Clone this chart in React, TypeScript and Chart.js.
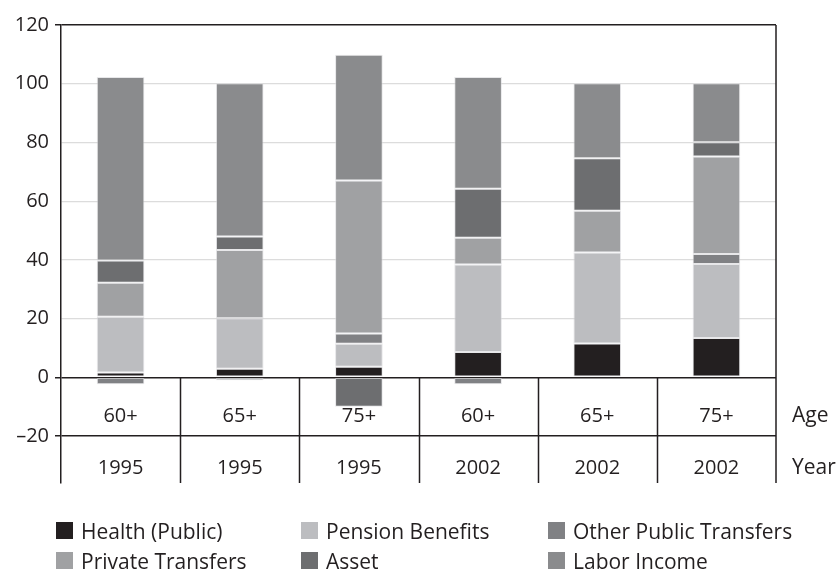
import React, { useEffect, useRef } from 'react';
import { Chart, registerables } from 'chart.js';

Chart.register(...registerables);

const ages = ['60+', '65+', '75+', '60+', '65+', '75+'];
const years = ['1995', '1995', '1995', '2002', '2002', '2002'];

const healthPublic = [1.6, 2.9, 3.6, 8.6, 11.5, 13.4];
const pensionBenefits = [19.0, 17.2, 7.8, 29.8, 31.0, 25.2];
const otherPublicTransfers = [-2.4, -1.0, 3.5, -2.4, 0, 3.4];
const privateTransfers = [11.6, 23.3, 52.1, 9.1, 14.2, 33.2];
const asset = [7.6, 4.6, -10.0, 16.7, 17.9, 4.9];
const laborIncome = [62.5, 52.2, 42.9, 38.1, 25.6, 20.1];

const yTickValues = [-20, 0, 20, 40, 60, 80, 100, 120];
const rowLabels = ['Age', 'Year'];

const FONT = '"Open Sans", "Noto Sans", sans-serif';
const DARK = '#231f20';

export default function App() {
  const ref = useRef<HTMLCanvasElement>(null);

  useEffect(() => {
    if (!ref.current) return;

    const tablePlugin = {
      id: 'tablePlugin',
      beforeDatasetsDraw(chart: any) {
        const { ctx, chartArea, scales } = chart;
        const y = scales.y;
        const { left, right, bottom, top } = chartArea;
        const y0 = y.getPixelForValue(0);
        const y20 = y.getPixelForValue(-20);
        const n = ages.length;
        const w = (right - left) / n;
        ctx.save();
        ctx.strokeStyle = DARK;
        ctx.lineWidth = 1.5;
        ctx.beginPath();
        for (let i = 1; i < n; i++) {
          const px = Math.round(left + w * i) + 0.5;
          ctx.moveTo(px, y0);
          ctx.lineTo(px, bottom);
        }
        ctx.moveTo(right, top);
        ctx.lineTo(right, bottom);
        ctx.stroke();

        ctx.fillStyle = DARK;
        ctx.font = `20px ${FONT}`;
        ctx.textAlign = 'center';
        ctx.textBaseline = 'alphabetic';
        const ageY = y0 + 45;
        const yearY = y20 + 38;
        for (let i = 0; i < n; i++) {
          const cx = left + w * (i + 0.5);
          ctx.fillText(ages[i], cx, ageY);
          ctx.fillText(years[i], cx, yearY);
        }
        ctx.font = `21px ${FONT}`;
        ctx.textAlign = 'left';
        ctx.fillText(rowLabels[0], right + 16, ageY);
        ctx.fillText(rowLabels[1], right + 16, yearY);
        ctx.restore();
      },
      afterDraw(chart: any) {
        const { ctx } = chart;
        const ds = chart.data.datasets;
        const colX = [56, 301, 548];
        const rowY = [539, 569];
        ctx.save();
        ctx.font = `21px ${FONT}`;
        ctx.textBaseline = 'alphabetic';
        ctx.textAlign = 'left';
        ds.forEach((d: any, i: number) => {
          const cx = colX[i % 3];
          const cy = rowY[Math.floor(i / 3)];
          ctx.fillStyle = d.backgroundColor;
          ctx.fillRect(cx, cy - 17, 17, 17);
          ctx.fillStyle = DARK;
          ctx.fillText(d.label, cx + 25, cy);
        });
        ctx.restore();
      },
    };

    const mk = (label: string, data: number[], color: string) => ({
      label,
      data,
      backgroundColor: color,
      borderColor: 'rgba(215,215,218,0.6)',
      borderWidth: 1,
      borderSkipped: false,
      barPercentage: 0.4,
      categoryPercentage: 1,
    });

    const chart = new Chart(ref.current, {
      type: 'bar',
      data: {
        labels: ages.map((a, i) => `${a} ${years[i]}`),
        datasets: [
          mk('Health (Public)', healthPublic, '#231f20'),
          mk('Pension Benefits', pensionBenefits, '#bcbdc0'),
          mk('Other Public Transfers', otherPublicTransfers, '#808184'),
          mk('Private Transfers', privateTransfers, '#a0a1a3'),
          mk('Asset', asset, '#6d6e70'),
          mk('Labor Income', laborIncome, '#8a8b8d'),
        ],
      },
      options: {
        animation: false,
        responsive: true,
        maintainAspectRatio: false,
        layout: { padding: { top: 25, right: 60, bottom: 87, left: 0 } },
        plugins: {
          legend: { display: false },
          tooltip: { enabled: false },
        },
        scales: {
          x: { display: false, stacked: true },
          y: {
            stacked: true,
            min: -36,
            max: 120,
            afterBuildTicks: (scale: any) => {
              scale.ticks = yTickValues.map((v) => ({ value: v }));
            },
            afterFit: (scale: any) => {
              scale.width = 61;
            },
            border: { display: true, color: DARK, width: 1.5 },
            grid: {
              color: (c: any) =>
                [120, 0, -20].includes(c.tick?.value) ? DARK : '#dcdcdc',
              lineWidth: (c: any) =>
                [120, 0, -20].includes(c.tick?.value) ? 1.5 : 1.2,
              tickColor: (c: any) =>
                [120, 0, -20].includes(c.tick?.value) ? DARK : 'rgba(0,0,0,0)',
              tickLength: 6,
              drawTicks: true,
            },
            ticks: {
              color: DARK,
              padding: 6,
              font: { family: FONT, size: 20 },
              callback: (v: any) => (v < 0 ? '\u2013' + Math.abs(v) : String(v)),
            },
          },
        },
      },
      plugins: [tablePlugin],
    });

    return () => chart.destroy();
  }, []);

  return (
    <div style={{ position: 'fixed', left: 0, top: 0, width: 836, height: 570, background: '#fff' }}>
      <canvas ref={ref} />
    </div>
  );
}
